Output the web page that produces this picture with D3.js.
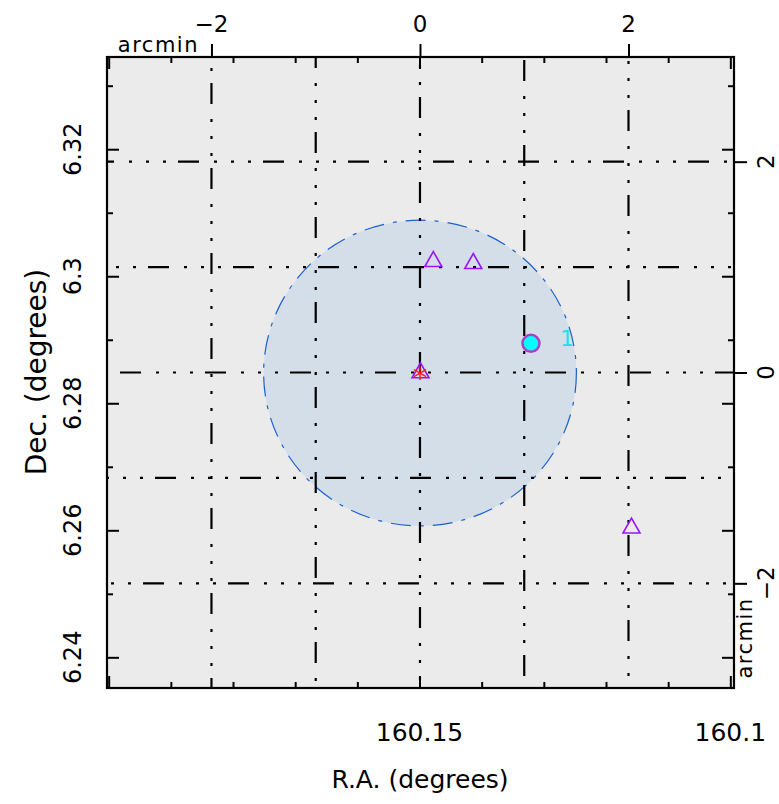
<!DOCTYPE html>
<html><head><meta charset="utf-8">
<script src="https://cdn.jsdelivr.net/npm/d3@7/dist/d3.min.js"></script>
<style>
body{margin:0;background:#fff}
svg{display:block}
text{font-family:"DejaVu Sans",sans-serif;fill:#000}
</style>
</head><body>
<svg id="chart" width="779" height="804"></svg>
<script>
// ---------------- data ----------------
const raMajorTicks = [160.2, 160.15, 160.1];
const raMajorLabels = ["", "160.15", "160.1"];
const raMinorTicks = [160.19, 160.18, 160.17, 160.16, 160.14, 160.13, 160.12, 160.11];
const decMajorTicks = [6.24, 6.26, 6.28, 6.30, 6.32];
const decMajorLabels = ["6.24", "6.26", "6.28", "6.3", "6.32"];
const decMinorTicks = [6.25, 6.27, 6.29, 6.31, 6.33];
const arcminTicks = [-2, 0, 2];
const arcminTickLabels = ["\u22122", "0", "2"];
const arcminGrid = [-2, -1, 0, 1, 2];
const fieldCenterRA = [160.14992];
const fieldCenterDec = [6.28476];
const fieldRadiusArcmin = [1.5, 1.45];   // semi-axes as drawn (RA, Dec)
const triangleRA  = [160.14778, 160.14135, 160.14984, 160.11590];
const triangleDec = [6.30271, 6.30240, 6.28519, 6.26075];
const asteriskRA  = [160.14992];
const asteriskDec = [6.28476];
const sourceRA  = [160.13207];
const sourceDec = [6.28944];
const sourceLabels = ["1"];

// ---------------- layout ----------------
const L = 107, R = 734, T = 57, B = 688;
const x = d3.scaleLinear().domain([160.20027, 160.09941]).range([L, R]);
const y = d3.scaleLinear().domain([6.23517, 6.33452]).range([B, T]);
const xA = d3.scaleLinear().domain([-3.002, 3.012]).range([L, R]);
const yA = d3.scaleLinear().domain([-2.993, 2.993]).range([B, T]);

const svg = d3.select("#chart");
svg.append("rect").attr("x", L).attr("y", T).attr("width", R - L).attr("height", B - T)
  .attr("fill", "#ebebeb");

// field circle
const fc = {x: x(fieldCenterRA[0]), y: y(fieldCenterDec[0])};
svg.append("ellipse").attr("cx", fc.x).attr("cy", fc.y)
  .attr("rx", xA(fieldRadiusArcmin[0]) - xA(0))
  .attr("ry", yA(0) - yA(fieldRadiusArcmin[1]))
  .attr("fill", "#d4dee8").attr("stroke", "#1c5fd0").attr("stroke-width", 1.2)
  .attr("stroke-dasharray", "20,9,4,9");

// arcmin grid (dash-dot-dot-dot)
const dash = "21,15,3,14,3,14,3,12";
const vPhase = {"-2": 26, "-1": 75, "0": 40, "1": 3, "2": 53};
const hPhase = {"2": 71, "1": 41, "0": 13, "-1": 48, "-2": 36};
const grid = svg.append("g").attr("stroke", "#000").attr("stroke-width", 2.2).attr("fill", "none");
grid.selectAll("line.v").data(arcminGrid).join("line").attr("class", "v")
  .attr("x1", d => xA(d)).attr("x2", d => xA(d)).attr("y1", T).attr("y2", B)
  .attr("stroke-dasharray", dash).attr("stroke-dashoffset", d => (85 - vPhase[d]) % 85);
grid.selectAll("line.h").data(arcminGrid).join("line").attr("class", "h")
  .attr("y1", d => yA(d)).attr("y2", d => yA(d)).attr("x1", L).attr("x2", R)
  .attr("stroke-dasharray", dash).attr("stroke-dashoffset", d => (85 - hPhase[d]) % 85);

// axes ticks
function styleAxis(g) {
  g.select(".domain").remove();
  g.selectAll(".tick line").attr("stroke", "#000").attr("stroke-width", 2);
  g.selectAll(".tick text").remove();
}
svg.append("g").attr("transform", `translate(0,${B})`)
  .call(d3.axisBottom(x).tickValues(raMajorTicks).tickSize(-12)).call(styleAxis);
svg.append("g").attr("transform", `translate(0,${B})`)
  .call(d3.axisBottom(x).tickValues(raMinorTicks).tickSize(-6)).call(styleAxis);
svg.append("g").attr("transform", `translate(0,${T})`)
  .call(d3.axisTop(x).tickValues(raMajorTicks).tickSize(-12)).call(styleAxis);
svg.append("g").attr("transform", `translate(0,${T})`)
  .call(d3.axisTop(x).tickValues(raMinorTicks).tickSize(-6)).call(styleAxis);
svg.append("g").attr("transform", `translate(${L},0)`)
  .call(d3.axisLeft(y).tickValues(decMajorTicks).tickSize(-12)).call(styleAxis);
svg.append("g").attr("transform", `translate(${L},0)`)
  .call(d3.axisLeft(y).tickValues(decMinorTicks).tickSize(-6)).call(styleAxis);
svg.append("g").attr("transform", `translate(${R},0)`)
  .call(d3.axisRight(y).tickValues(decMajorTicks).tickSize(-12)).call(styleAxis);
svg.append("g").attr("transform", `translate(${R},0)`)
  .call(d3.axisRight(y).tickValues(decMinorTicks).tickSize(-6)).call(styleAxis);
svg.append("g").attr("transform", `translate(0,${T})`)
  .call(d3.axisTop(xA).tickValues(arcminTicks).tickSize(13)).call(styleAxis);
svg.append("g").attr("transform", `translate(${R},0)`)
  .call(d3.axisRight(yA).tickValues(arcminTicks).tickSize(13)).call(styleAxis);

// frame
svg.append("rect").attr("x", L).attr("y", T).attr("width", R - L).attr("height", B - T)
  .attr("fill", "none").attr("stroke", "#000").attr("stroke-width", 2.2);

// tick labels
const fs = 24;
svg.selectAll("text.rab").data(raMajorTicks).join("text").attr("class", "rab")
  .attr("x", d => x(d)).attr("y", 741).attr("text-anchor", "middle").attr("font-size", 25)
  .text((d, i) => raMajorLabels[i]);
svg.selectAll("text.decl").data(decMajorTicks).join("text").attr("class", "decl")
  .attr("transform", d => `translate(81,${y(d)}) rotate(-90)`)
  .attr("text-anchor", "middle").attr("font-size", fs)
  .text((d, i) => decMajorLabels[i]);
svg.selectAll("text.arct").data(arcminTicks).join("text").attr("class", "arct")
  .attr("x", d => xA(d)).attr("y", 32).attr("text-anchor", "middle").attr("font-size", 23)
  .text((d, i) => arcminTickLabels[i]);
svg.selectAll("text.arcr").data(arcminTicks).join("text").attr("class", "arcr")
  .attr("transform", d => `translate(774,${yA(d)}) rotate(-90)`)
  .attr("text-anchor", "middle").attr("font-size", 23)
  .text((d, i) => arcminTickLabels[i]);
svg.append("text").attr("x", 199).attr("y", 52).attr("text-anchor", "end")
  .attr("font-size", 21).attr("letter-spacing", 1.5).text("arcmin");
svg.append("text").attr("transform", "translate(752,638) rotate(-90)")
  .attr("text-anchor", "middle").attr("font-size", 21).attr("letter-spacing", 1.5).text("arcmin");

// axis titles
svg.append("text").attr("x", 420).attr("y", 788).attr("text-anchor", "middle")
  .attr("font-size", 25).text("R.A. (degrees)");
svg.append("text").attr("transform", "translate(46,372) rotate(-90)")
  .attr("text-anchor", "middle").attr("font-size", 28).text("Dec. (degrees)");

// markers
const tri = "M0,-7.5L8.5,7.5L-8.5,7.5Z";
svg.selectAll("path.tri").data(triangleRA).join("path").attr("class", "tri")
  .attr("transform", (d, i) => `translate(${x(d)},${y(triangleDec[i])})`)
  .attr("d", tri).attr("fill", "none").attr("stroke", "#9a14ff").attr("stroke-width", 1.6);

const ast = svg.selectAll("g.ast").data(asteriskRA).join("g").attr("class", "ast")
  .attr("transform", (d, i) => `translate(${x(d)},${y(asteriskDec[i])})`)
  .attr("stroke", "#ff1a1a").attr("stroke-width", 1.5);
[90, 30, -30].forEach(a => {
  const r = 7, c = Math.cos(a * Math.PI / 180) * r, s = Math.sin(a * Math.PI / 180) * r;
  ast.append("line").attr("x1", -c).attr("y1", -s).attr("x2", c).attr("y2", s);
});

svg.selectAll("circle.src").data(sourceRA).join("circle").attr("class", "src")
  .attr("cx", d => x(d)).attr("cy", (d, i) => y(sourceDec[i])).attr("r", 8.5)
  .attr("fill", "#00ffff").attr("stroke", "#b23cc4").attr("stroke-width", 2.5);
svg.selectAll("text.srcl").data(sourceRA).join("text").attr("class", "srcl")
  .attr("x", d => x(d) + 36).attr("y", (d, i) => y(sourceDec[i]) + 3)
  .attr("text-anchor", "middle").attr("font-size", 22).style("fill", "#1ee0e8")
  .text((d, i) => sourceLabels[i]);
</script>
</body></html>
